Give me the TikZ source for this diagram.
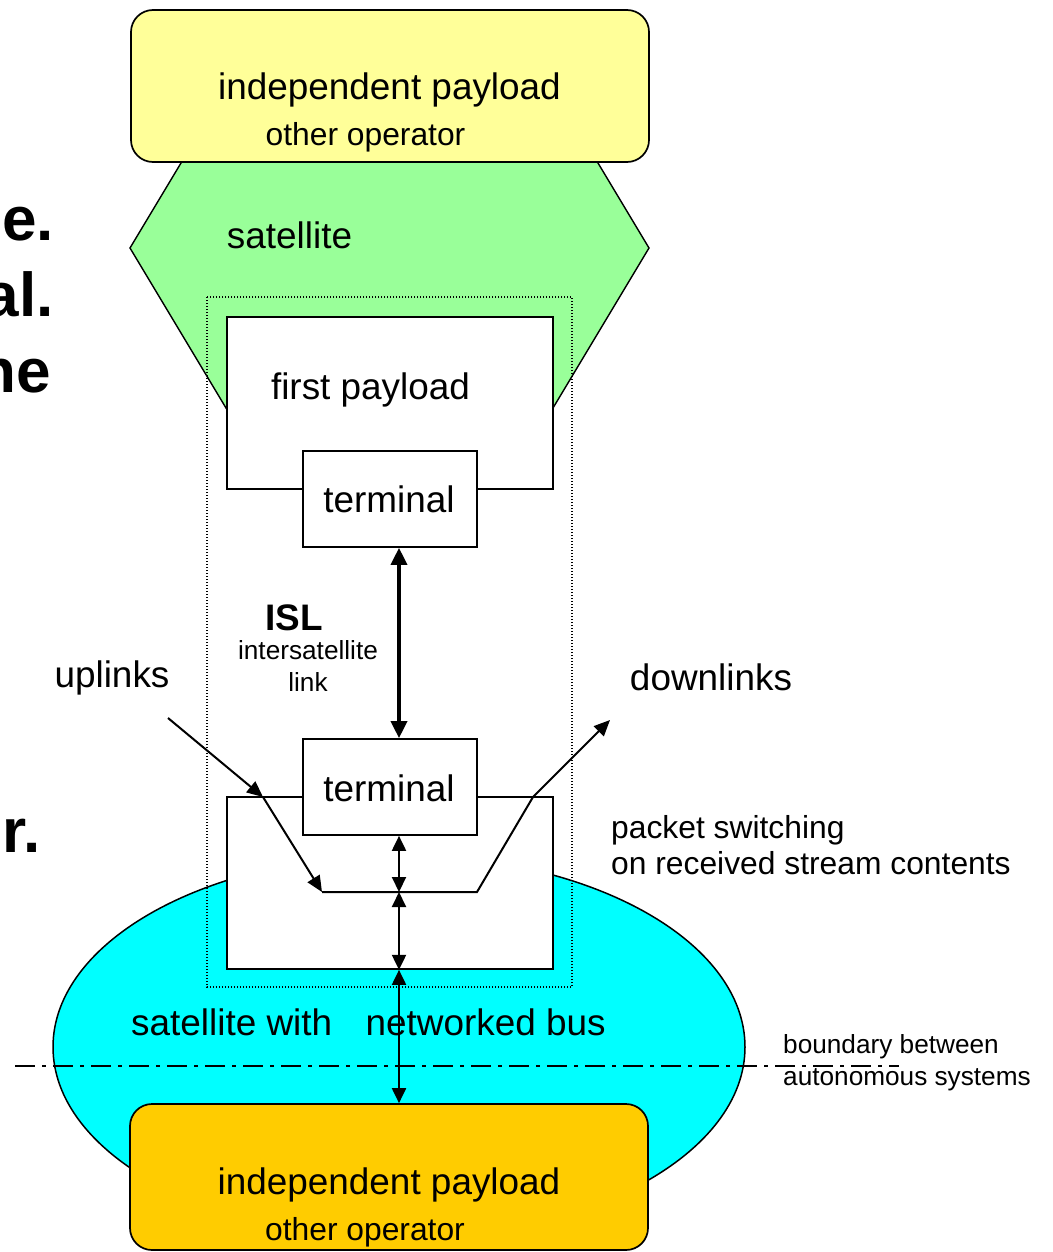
\documentclass[tikz,border=0pt]{standalone}
\usepackage{fontspec}
\setmainfont{Liberation Sans}
\usetikzlibrary{arrows.meta}

\definecolor{satgreen}{HTML}{99FF99}
\definecolor{buscyan}{HTML}{00FFFF}
\definecolor{plyellow}{HTML}{FFFF99}
\definecolor{plorange}{HTML}{FFCC00}

\tikzset{
  blockbox/.style={draw=black, line width=1.7pt, fill=white, inner sep=0pt},
  opbox/.style={draw=black, line width=1.7pt, rounded corners=22pt, inner sep=0pt,
                minimum width=518pt},
  biglbl/.style={inner sep=0pt, font=\fontsize{36.9}{44}\selectfont},
  midlbl/.style={inner sep=0pt, font=\fontsize{31.8}{38}\selectfont},
  smalllbl/.style={inner sep=0pt, font=\fontsize{26.2}{31}\selectfont},
  fragment/.style={inner sep=0pt, anchor=base east, font=\fontsize{62}{74}\selectfont\bfseries},
  thintip/.style={-{Triangle[length=16pt,width=14pt]}},
  bothtips/.style={{Triangle[length=15pt,width=14pt]}-{Triangle[length=15pt,width=14pt]}},
  isllink/.style={line width=3.6pt, {Triangle[length=17pt,width=16pt]}-{Triangle[length=17pt,width=16pt]}},
  wire/.style={line width=2pt},
  enclosure/.style={line width=1.1pt, dash pattern=on 1.1pt off 1.9pt},
  boundary/.style={line width=1.5pt, dash pattern=on 20pt off 7pt on 4pt off 7pt}
}

\begin{document}
\begin{tikzpicture}[x=1pt, y=-1pt]
  \useasboundingbox (0,0) rectangle (1052,1252);
  \clip (0,0) rectangle (1052,1252);

  % satellite body (hexagon) and networked bus (ellipse)
  \draw[line width=1.4pt, fill=satgreen]
    (130,248) -- (232,78) -- (547,78) -- (649,248) -- (547,418) -- (232,418) -- cycle;
  \draw[line width=1.5pt, fill=buscyan] (399,1047) ellipse [x radius=346, y radius=192];

  % enclosure of the two linked payloads
  \draw[enclosure] (207,297) rectangle (572,987);

  % independent payloads of other operators
  \node[opbox, fill=plyellow, minimum height=152pt] (topop) at (390,86) {};
  \node[opbox, fill=plorange, minimum height=146pt] (botop) at (389,1177) {};

  % first payload with its terminal
  \node[blockbox, minimum width=326pt, minimum height=172pt] (fp) at (390,403) {};
  \node[blockbox, minimum width=174pt, minimum height=96pt] (t1) at (390,499) {};

  % switching payload with its terminal
  \node[blockbox, minimum width=326pt, minimum height=172pt] (sp) at (390,883) {};
  \node[blockbox, minimum width=174pt, minimum height=96pt] (t2) at (390,787) {};

  % junction points of the switching path
  \coordinate (bus) at (399,892);
  \coordinate (swl) at (322,892);
  \coordinate (swr) at (477,892);
  \coordinate (upsrc) at (168,718);
  \coordinate (upin) at (263,797);
  \coordinate (dnout) at (533,797);
  \coordinate (dndst) at (610,720);

  % intersatellite link
  \draw[isllink] (t1.south -| bus) -- (t2.north -| bus);

  % vertical data paths
  \draw[wire, bothtips] (t2.south -| bus) -- (bus);
  \draw[wire, bothtips] (bus) -- (sp.south -| bus);
  \draw[wire, bothtips] (sp.south -| bus) -- (botop.north -| bus);

  % uplinks, switching, downlinks
  \draw[wire, thintip] (upsrc) -- (upin);
  \draw[wire, thintip] (upin) -- (swl);
  \draw[wire] (swl) -- (swr) -- (dnout);
  \draw[wire, thintip] (dnout) -- (dndst);

  % boundary between autonomous systems
  \coordinate (bndl) at (15,1066);
  \coordinate (bndr) at (899,1066);
  \draw[boundary] (bndl) -- (bndr);

  % labels
  \node[biglbl] (tl1) at (389.5,90) {independent payload};
  \node[midlbl] (tl2) at (365.5,137) {other operator};
  \node[biglbl] (bl1) at (389,1185) {independent payload};
  \node[midlbl] (bl2) at (365,1232) {other operator};
  \node[biglbl] (satl) at (289.5,235) {satellite};
  \node[biglbl] (fpl) at (370.5,390) {first payload};
  \node[biglbl] (t1l) at (389,499.5) {terminal};
  \node[biglbl] (t2l) at (389,788) {terminal};
  \node[biglbl, font=\fontsize{36.9}{44}\selectfont\bfseries] (isll) at (294,618) {ISL};
  \node[smalllbl] (isl2) at (308,650) {intersatellite};
  \node[smalllbl] (isl3) at (308,682.5) {link};
  \node[biglbl] (upl) at (112,678) {uplinks};
  \node[biglbl] (dnl) at (711,677) {downlinks};
  \node[midlbl, anchor=west] (ps1) at (611,830) {packet switching};
  \node[midlbl, anchor=west] (ps2) at (611,863) {on received stream contents};
  \node[biglbl, anchor=west] (busl) at (131,1022.5) {satellite with\hspace{33.5pt}networked bus};
  \node[smalllbl, anchor=west] (bd1) at (783,1047) {boundary between};
  \node[smalllbl, anchor=west] (bd2) at (783,1080) {autonomous systems};

  % ends of lines of text running in from the left
  \node[fragment] (f1) at (54,240) {e.};
  \node[fragment] (f2) at (54,316) {al.};
  \node[fragment] (f3) at (51,392) {ne};
  \node[fragment] (f4) at (41,852) {r.};
\end{tikzpicture}
\end{document}
